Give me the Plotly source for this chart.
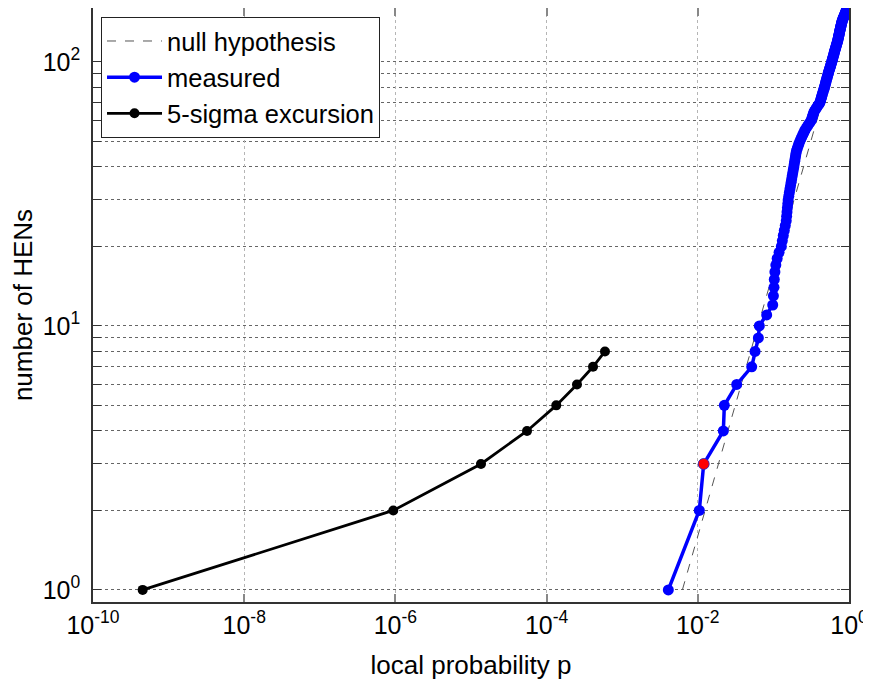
import plotly.graph_objects as go

# ---- data ----
# null hypothesis: n = N * p  (end points)
null_p = [0.00625, 1.0]
null_n = [1, 160]

# measured: number of HENs vs local probability (log10 p)
measured_n = list(range(1, 161))
measured_log10_p = [
    -2.390, -1.980, -1.922, -1.662, -1.649, -1.485, -1.287, -1.243, -1.199, -1.186,
    -1.089, -1.009, -1.000, -0.992, -0.988, -0.980, -0.968, -0.950, -0.925, -0.895,
    -0.882, -0.869, -0.856, -0.843, -0.830, -0.825, -0.820, -0.815, -0.810, -0.805,
    -0.797, -0.789, -0.781, -0.773, -0.765, -0.758, -0.751, -0.744, -0.737, -0.730,
    -0.724, -0.718, -0.713, -0.707, -0.701, -0.695, -0.684, -0.673, -0.662, -0.650,
    -0.637, -0.624, -0.611, -0.598, -0.585, -0.568, -0.551, -0.534, -0.517, -0.500,
    -0.492, -0.484, -0.476, -0.468, -0.460, -0.445, -0.430, -0.415, -0.400, -0.385,
    -0.379, -0.373, -0.367, -0.361, -0.355, -0.349, -0.343, -0.337, -0.331, -0.325,
    -0.320, -0.315, -0.310, -0.306, -0.301, -0.296, -0.291, -0.286, -0.281, -0.277,
    -0.272, -0.267, -0.262, -0.257, -0.252, -0.247, -0.242, -0.238, -0.233, -0.228,
    -0.224, -0.220, -0.216, -0.212, -0.208, -0.204, -0.200, -0.197, -0.193, -0.189,
    -0.185, -0.181, -0.177, -0.173, -0.169, -0.166, -0.162, -0.158, -0.154, -0.150,
    -0.147, -0.145, -0.142, -0.140, -0.137, -0.134, -0.132, -0.129, -0.127, -0.124,
    -0.121, -0.119, -0.116, -0.114, -0.111, -0.108, -0.106, -0.103, -0.101, -0.098,
    -0.095, -0.093, -0.090, -0.086, -0.082, -0.078, -0.074, -0.069, -0.065, -0.061,
    -0.057, -0.053, -0.049, -0.045, -0.041, -0.037, -0.032, -0.028, -0.024, -0.020,
]
measured_p = [10 ** v for v in measured_log10_p]

# highlighted measured point (n = 3)
highlight_n = [3]
highlight_p = [10 ** -1.922]

# 5-sigma excursion
sigma5_n = [1, 2, 3, 4, 5, 6, 7, 8]
sigma5_log10_p = [-9.343, -6.028, -4.868, -4.259, -3.872, -3.598, -3.386, -3.228]
sigma5_p = [10 ** v for v in sigma5_log10_p]

x_tickvals = [1e-10, 1e-8, 1e-6, 1e-4, 1e-2, 1]
x_ticktext = ["10<sup>-10</sup>", "10<sup>-8</sup>", "10<sup>-6</sup>",
              "10<sup>-4</sup>", "10<sup>-2</sup>", "10<sup>0</sup>"]
y_tickvals = [1, 10, 100]
y_ticktext = ["10<sup>0</sup>", "10<sup>1</sup>", "10<sup>2</sup>"]
y_minor = [2, 3, 4, 5, 6, 7, 8, 9, 20, 30, 40, 50, 60, 70, 80, 90]

FONT = "Liberation Sans, Arial, sans-serif"

fig = go.Figure()
fig.add_trace(go.Scatter(
    x=null_p, y=null_n, mode="lines", name="null hypothesis",
    line=dict(color="#555555", width=1, dash="dash"),
))
fig.add_trace(go.Scatter(
    x=measured_p, y=measured_n, mode="lines+markers", name="measured",
    line=dict(color="#0000ff", width=3.5),
    marker=dict(color="#0000ff", size=11),
))
fig.add_trace(go.Scatter(
    x=highlight_p, y=highlight_n, mode="markers", showlegend=False,
    marker=dict(color="#ff0000", size=11, line=dict(color="#3030c0", width=0.8)),
))
fig.add_trace(go.Scatter(
    x=sigma5_p, y=sigma5_n, mode="lines+markers", name="5-sigma excursion",
    line=dict(color="#000000", width=2.8),
    marker=dict(color="#000000", size=10),
))

# The page body adds an 8 px offset, so the figure is sized to fit the window.
fig.update_layout(
    width=863, height=676,
    margin=dict(l=85, r=22, t=0, b=82, autoexpand=False),
    paper_bgcolor="white", plot_bgcolor="white",
    font=dict(family=FONT, color="black"),
    showlegend=True,
    legend=dict(
        x=0.0106, y=0.985, xanchor="left", yanchor="top",
        bgcolor="white", bordercolor="#222222", borderwidth=1,
        font=dict(size=25.5, family=FONT),
        itemwidth=55, tracegroupgap=0,
    ),
)

fig.update_xaxes(
    type="log", range=[-10, 0], automargin=False,
    tickvals=x_tickvals, ticktext=x_ticktext,
    tickfont=dict(size=25, family=FONT),
    ticks="inside", ticklen=8, tickwidth=1.5, tickcolor="#888888",
    showline=True, linecolor="#333333", linewidth=1.5, mirror="allticks",
    showgrid=True, gridcolor="#b5b5b5", gridwidth=1, griddash="dot",
    zeroline=False,
    title=dict(text="local probability p", font=dict(size=26, family=FONT), standoff=18),
)
fig.update_yaxes(
    type="log", range=[-0.0458, 2.2041], automargin=False,
    tickvals=y_tickvals, ticktext=y_ticktext,
    tickfont=dict(size=25, family=FONT), ticklabelstandoff=6,
    ticks="inside", ticklen=8, tickwidth=1, tickcolor="#333333",
    showline=True, linecolor="#333333", linewidth=1.5, mirror="allticks",
    showgrid=True, gridcolor="#666666", gridwidth=1, griddash="dot",
    zeroline=False,
    minor=dict(tickvals=y_minor, ticks="inside", ticklen=8, tickcolor="#333333",
               showgrid=True, gridcolor="#666666", gridwidth=1, griddash="dot"),
    title=dict(text="number of HENs", font=dict(size=26, family=FONT), standoff=4),
)

fig.write_html("out.html")
